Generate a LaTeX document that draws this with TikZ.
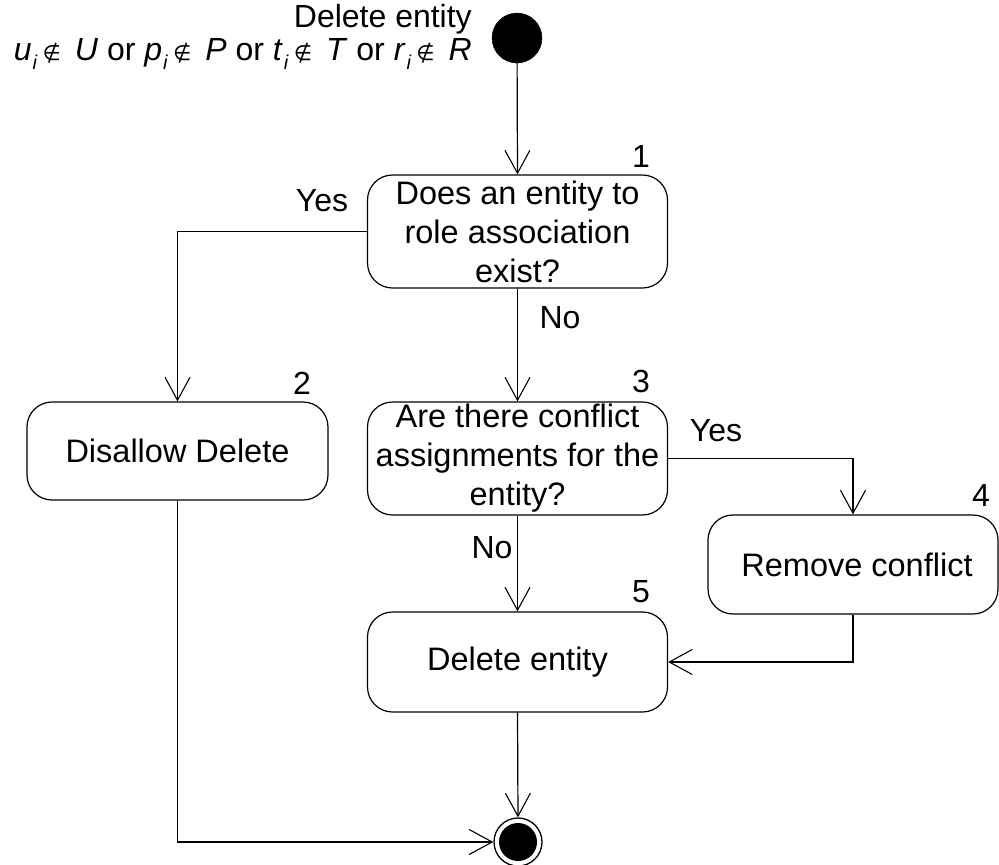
\documentclass[tikz,border=0pt]{standalone}
\usepackage{fontspec}
\setmainfont{Liberation Sans}
\newfontfamily\symfont{DejaVu Sans}
\usetikzlibrary{arrows.meta,calc}

% "x_i not in X" with a low index and a small not-element sign
\newcommand{\nelem}{{\symfont\fontsize{21}{21}\selectfont ∉}}
\newcommand{\lowidx}{\raisebox{-9pt}{\fontsize{20}{20}\selectfont\textit{i}}}
\newcommand{\varnotin}[2]{\textit{#1}\hspace{1pt}\lowidx\hspace{5pt}\nelem\hspace{14pt}\textit{#2}}

\tikzset{
  flow/.style={line width=1.2pt},
  arr/.style={flow,-{Straight Barb[length=23pt,width=25pt,line width=1.1pt]}},
  activity/.style={draw,line width=1.2pt,rounded corners=25pt,align=center,
    inner sep=0pt,minimum width=300pt,font=\fontsize{32.5}{39}\selectfont},
  lbl/.style={font=\fontsize{32}{36}\selectfont,inner sep=0pt},
  startdot/.style={circle,fill=black,draw=black,minimum size=50pt,inner sep=0pt},
  enddot/.style={circle,draw=black,line width=1.3pt,minimum size=48pt,inner sep=0pt,
    path picture={\fill (path picture bounding box.center) circle (19pt);}}
}

\begin{document}
\begin{tikzpicture}[x=1pt,y=-1pt]
\useasboundingbox (0,0) rectangle (999,865);

% start and end states
\node[startdot] (start) at (517,38) {};
\node[enddot] (end) at (518,842) {};

\node[lbl,anchor=east,align=right] (cond) at (472,37)
  {Delete entity\\[-3pt]
   \varnotin{u}{U} or \varnotin{p}{P} or \varnotin{t}{T} or \varnotin{r}{R}};

% activities
\node[activity,minimum height=113pt] (b1) at (517.5,231.5)
  {Does an entity to\\role association\\exist?};
\node[activity,minimum width=301pt,minimum height=98pt] (b2) at (177.5,451)
  {Disallow Delete};
\node[activity,minimum height=113pt] (b3) at (517.5,458.5)
  {Are there conflict\\assignments for the\\entity?};
\node[activity,minimum width=290pt,minimum height=99pt] (b4) at (853,564.5)
  {\hspace*{8pt}Remove conflict};
\node[activity,minimum height=100pt] (b5) at (517.5,662)
  {Delete entity};

% activity numbers
\node[lbl] (n1) at (641,156) {1};
\node[lbl] (n2) at (302,383) {2};
\node[lbl] (n3) at (641,381) {3};
\node[lbl] (n4) at (981,495) {4};
\node[lbl] (n5) at (641,592) {5};

% transitions
\draw[arr] (start) -- (b1.north);
\draw[arr] (b1.west) -| (b2.north);
\draw[arr] (b1.south) -- (b3.north);
\draw[arr] (b3.east) -| (b4.north);
\draw[arr] (b3.south) -- (b5.north);
\draw[arr] (b4.south) |- (b5.east);
\draw[arr] (b5.south) -- (end.north);
\draw[arr] (b2.south) |- (end.west);

% guards
\node[lbl] (y1) at (322,201) {Yes};
\node[lbl] (no1) at (560,318) {No};
\node[lbl] (y2) at (716,431) {Yes};
\node[lbl] (no2) at (492,548) {No};
\end{tikzpicture}
\end{document}
